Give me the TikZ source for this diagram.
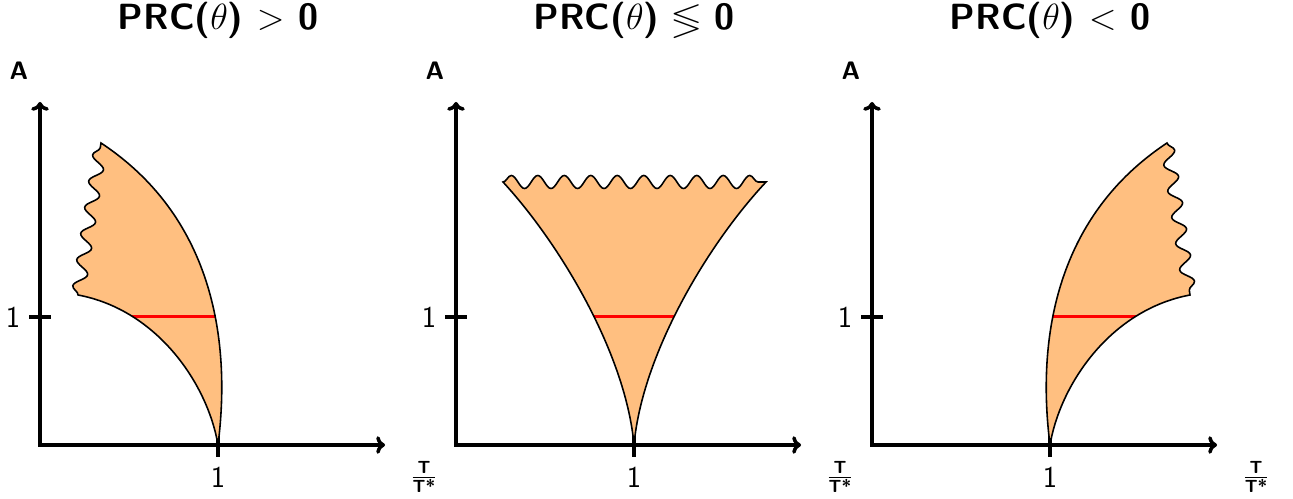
\documentclass[tikz,border=0pt]{standalone}
\usepackage{amsmath,amssymb}
\usetikzlibrary{arrows.meta,decorations.pathmorphing}

\tikzset{
  axes/.style={line width=2pt, {To[length=5pt,width=10pt]}-{To[length=5pt,width=10pt]}},
  tickmark/.style={line width=2pt},
  region/.style={draw=black, line width=0.9pt, fill=orange!50},
  level/.style={red, line width=1.7pt},
  wave/.style={decoration={snake, segment length=0.53cm, amplitude=0.13cm}}
}

\begin{document}
\begin{tikzpicture}[x=0.02cm, y=0.02cm, font=\sffamily]
\useasboundingbox (0,0) rectangle (1293,499);

% Axes, ticks and labels, the same for the three panels
\foreach \i/\dx/\relsign in {1/0/{>}, 2/416/{\lessgtr}, 3/832/{<}} {
  \begin{scope}[shift={(40+\dx,54)}]
    \coordinate (o\i) at (0,0);
    \draw[axes] (0,343) -- (o\i) -- (345,0);
    \draw[tickmark] (178,-12) -- (178,12);
    \draw[tickmark] (-11,128) -- (11,128);
    \node[font=\sffamily\huge\bfseries, anchor=base, inner sep=0pt] (title\i) at (178,415) {PRC($\theta$) $\relsign$ 0};
    \node[font=\sffamily\Large\bfseries] (amp\i) at (-21,374) {A};
    \node[font=\sffamily\LARGE] (aone\i) at (-27,128) {1};
    \node[font=\sffamily\LARGE] (tone\i) at (178,-32) {1};
    \node[font=\sffamily\Large\bfseries] (ratio\i) at (384,-32) {$\frac{\textbf{T}}{\textbf{T*}}$};
  \end{scope}
}

% Panel 1: PRC > 0, region leans to the left
\begin{scope}[shift={(40,54)}]
  \draw[region, path picture={\draw[level] (0,128) -- (345,128);}]
    (178,0) .. controls (168,60) and (118,135) .. (38,150)
    decorate[wave] { -- (61,302) }
    .. controls (170,230) and (192,110) .. (178,0) -- cycle;
\end{scope}

% Panel 2: PRC of both signs, region opens upward
\begin{scope}[shift={(456,54)}]
  \draw[region, path picture={\draw[level] (0,128) -- (345,128);}]
    (178,0) .. controls (170,90) and (105,200) .. (47,263)
    decorate[wave] { -- (310,263) }
    .. controls (251,200) and (186,90) .. (178,0) -- cycle;
\end{scope}

% Panel 3: PRC < 0, region leans to the right
\begin{scope}[shift={(872,54)}]
  \draw[region, path picture={\draw[level] (0,128) -- (345,128);}]
    (178,0) .. controls (164,110) and (186,230) .. (295,302)
    decorate[wave] { -- (318,150) }
    .. controls (238,135) and (188,60) .. (178,0) -- cycle;
\end{scope}

\end{tikzpicture}
\end{document}
